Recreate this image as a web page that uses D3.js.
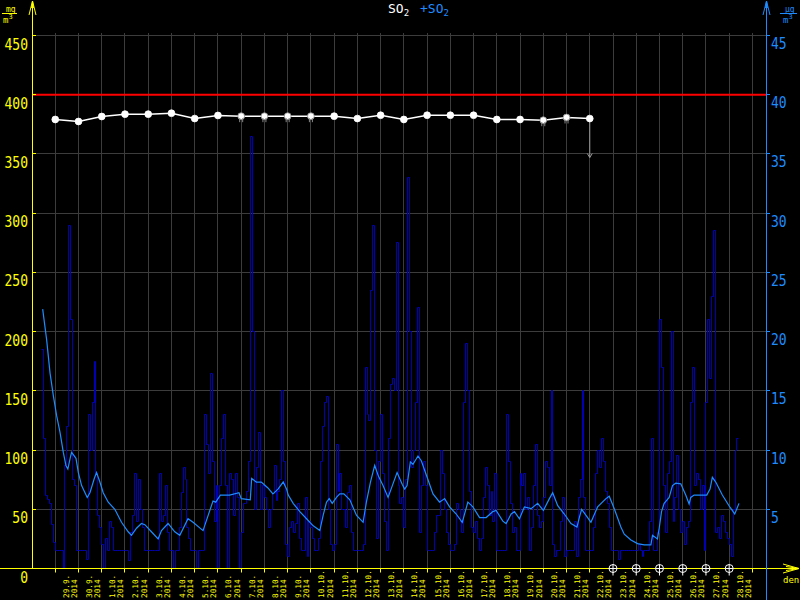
<!DOCTYPE html>
<html><head><meta charset="utf-8">
<script src="https://cdn.jsdelivr.net/npm/d3@7/dist/d3.min.js"></script>
<style>html,body{margin:0;padding:0;background:#000;overflow:hidden}svg{display:block}</style>
</head><body>
<svg id="c" width="800" height="600"></svg>
<script>
// ---------------- DATA ----------------
// 2-hour SO2 values (right axis units), first value at 28.9.2014 10:00 UTC
const hourlyStartUTC = [2014, 8, 28, 10];
const hourlyStepHours = 2;
const so2Hourly = [
  18.5,11,6.2,5.8,5.5,3.7,2.2,
  1.5,1.5,1.5,1.5,0,8.7,12,29,21,7.5,7,1.5,
  1.5,1.5,1.5,1.5,0.8,13,10,14,17.5,8,4.5,3.5,
  2,0,2.5,1.5,4,3.5,1.5,1.5,1.5,1.5,1.5,1.5,
  1.5,1.5,0.7,3,4.5,8,4,7.5,5,3.5,1.5,1.5,
  1.5,1.5,1.5,1.5,1.5,1.5,8,4,4.5,7,3,1.5,
  1.5,0,1.5,1.5,3.5,6.4,8.5,7.5,3.5,2.5,1.5,1.5,
  1.5,0,1.5,1.5,1.5,13,10.5,8,16.5,9,4,7,
  0,7,11,13,7,0,8,7.5,4.5,8,6,0,
  3,5.5,5.5,6.5,9,36.5,20,5,8.5,11.5,5,7,
  6,5,3.5,5,6.3,8.7,5.7,6.5,7.5,15,9,2,
  1,3.5,4,3,3.8,5.5,2.5,1.5,1.5,6,1,4,
  3.5,2.5,1.5,1.5,2.5,9,12,14,14.5,5,2,1.5,
  2,10.5,6.5,8,5,5,3.5,6.4,7,3,1.5,1.5,
  1.5,1.5,1.5,2,17,13,12.5,23.5,29,10,2.5,9,
  13,8,4,1.5,11,15.5,16,15,27.5,7,5.5,6,
  3.5,7.5,33,20,8.5,10,14,22,3,7,9,7,
  1.5,1.5,1.5,1.5,3,4.5,4.5,10,8,5,3,2,
  1.5,1.5,2,5.5,5,4,3,14,19,15,6.5,3.5,
  3,4,2.5,1.5,2.5,6,8.5,7,4.5,6.5,4,8,
  1.5,1.5,1.5,1.5,1.5,13,9,5.5,3,3.5,1.5,1.5,
  8,7,8,5,6,1.5,3.5,7,10.5,4.5,3.5,4,
  6,9,8.5,7,15,2,1,1.5,1.5,4,6,1,
  1.5,1.5,1.5,1.5,4,1,6,7.5,15,6,1.5,1.5,
  1.5,1.5,3.5,8,10,8.5,11,9,6.5,5.5,3.5,1.5,
  1.5,1.5,1.5,0.8,1.5,1.5,1.5,1.5,1.5,1.5,1.5,1.5,
  1.5,2,1.5,1,1.5,1.5,1.5,4,11,1.5,1.5,3,
  21,17,7,3,8,9,20,4,6,9.5,5,3,
  4,2,3.5,4,14,17,7,8,7.5,5,7,1.5,
  14,21,16,23,28.5,3,3.5,2.5,4.5,4,3,2.5,
  2,1,5,10,11
];
// running average (+SO2), hours after 28.9.2014 00:00 UTC and values (right axis units)
const avgHours = [11,15.1,18.6,22,25.4,28.9,32.3,35,37,39.9,40.9,45.4,47.8,51.2,57,59.8,64.3,66.6,70.1,73.5,
  78.7,85.5,92.4,99.3,102.7,107.9,113,116.5,123.3,130.2,133.7,140.5,147.4,152.6,161.1,166.3,176.6,186.9,189.7,194.5,
  200,204.1,213.7,216.1,225.4,226.8,231.6,236.8,243.6,248.8,254,
  259.4,262.9,264.6,269.7,276.6,283.5,290.4,297.2,300.7,304.1,306.9,310,314.4,317.8,322,328.2,335,341.9,345.3,349.5,
  353.9,357.7,362.5,367.7,372.1,377,382.4,384.9,387.3,390.7,393.4,398.6,402,407.2,414.1,420.9,426.1,431.2,438.1,444.3,
  450.1,455.3,462.2,469,475.9,479.3,486.2,489.6,494.8,498.2,503.4,
  508.5,515.4,522.2,528.1,534.3,537.7,542.9,549.7,556.6,562.8,565.2,567.6,573.8,577.2,584.1,592.7,596.1,601.3,608.1,611.6,
  618.5,625.3,632.2,639.1,640.8,645.9,647.7,650.1,652.8,658,661.4,664.8,670,675.1,678.6,680.3,683.7,690.6,696.8,700.2,
  702.6,706.1,712.9,719.8,725.7,730.1];
const avgValues = [21.9,19.3,16.5,14.6,12.9,11.5,9.8,8.7,8.4,9.5,9.8,9.3,8.1,7.0,6.0,6.4,7.6,8.1,7.3,6.4,
  5.6,5.0,3.9,3.1,2.8,3.4,3.8,3.7,3.1,2.5,3.2,3.8,3.1,2.8,4.2,3.9,3.2,5.7,5.6,6.2,
  6.2,6.2,6.4,5.9,5.8,7.6,7.3,7.3,6.8,6.3,6.7,
  7.3,6.7,6.2,5.5,4.8,4.2,3.6,3.2,4.5,5.6,5.9,5.5,6.0,6.3,6.3,5.8,4.5,3.9,5.6,7.3,
  8.7,7.8,7.0,6.0,7.0,8.1,7.1,6.7,7.0,9.0,8.8,9.5,9.1,7.9,6.3,5.6,5.9,5.2,4.6,3.9,
  5.6,5.2,4.3,4.3,4.8,4.9,4.0,3.8,4.6,4.8,4.2,
  5.2,5.05,5.5,4.9,5.9,6.4,5.3,4.6,3.8,3.5,4.3,5.0,4.3,3.9,5.2,5.9,6.1,5.05,3.5,2.9,
  2.4,2.1,2.0,2.0,2.8,2.5,3.4,4.8,5.5,6.0,7.0,7.2,7.15,6.2,5.45,6.0,6.2,6.2,6.2,6.7,
  7.7,7.3,6.2,5.3,4.6,5.5];
// daily SO2 (left axis units), plotted at midnight from 29.9. to 22.10.
const dailyFirstDate = [2014, 8, 29];
const dailyValues = [379.1,377.4,381.6,383.6,383.6,384.4,379.9,382.5,381.9,381.9,381.9,381.9,
  381.9,379.9,382.7,379.1,382.7,382.7,382.7,379.1,379.1,378.5,380.8,379.9];
const dailyIncomplete = [0,0,0,0,0,0,0,0,1,1,1,1,0,0,0,0,0,0,0,0,0,1,1,0];
const lastDropTo = 347;
// days without daily value
const missingDates = ["2014-10-23","2014-10-24","2014-10-25","2014-10-26","2014-10-27","2014-10-28"];
const dayLabels = ["29.9.","30.9.","1.10.","2.10.","3.10.","4.10.","5.10.","6.10.","7.10.","8.10.",
  "9.10.","10.10.","11.10.","12.10.","13.10.","14.10.","15.10.","16.10.","17.10.","18.10.",
  "19.10.","20.10.","21.10.","22.10.","23.10.","24.10.","25.10.","26.10.","27.10.","28.10."];
const yearLabel = "2014";
const limitValue = 400;
const leftTicks = [0,50,100,150,200,250,300,350,400,450];
const rightTicks = [5,10,15,20,25,30,35,40,45];

// ---------------- CHART ----------------
const svg = d3.select('#c');
const X0 = 33, X1 = 766, Y0 = 568.5, Y1 = 35.5;
const YELLOW = '#ffff00', BLUE = '#1e8cff', DARK = '#0000b4', GRID = '#3c3c3c';
const t0 = new Date(Date.UTC(2014, 8, 28, 1));
const t1 = new Date(Date.UTC(2014, 9, 29, 14));
const x = d3.scaleUtc().domain([t0, t1]).range([X0, X1]);
const yL = d3.scaleLinear().domain([0, 450]).range([Y0, Y1]);
const yR = d3.scaleLinear().domain([0, 45]).range([Y0, Y1]);
const r5 = v => Math.round(v - 0.5) + 0.5;
const mono = 'DejaVu Sans Mono, monospace';

svg.append('rect').attr('width', 800).attr('height', 600).attr('fill', '#000');

const dayTicks = d3.utcDay.range(new Date(Date.UTC(2014, 8, 29)), new Date(Date.UTC(2014, 9, 29, 1)));

// grid
const grid = svg.append('g').attr('stroke', GRID).attr('stroke-width', 1);
grid.selectAll('line.v').data(dayTicks).join('line')
  .attr('x1', d => r5(x(d))).attr('x2', d => r5(x(d)))
  .attr('y1', 33).attr('y2', Y0);
grid.selectAll('line.h').data(leftTicks.filter(d => d > 0)).join('line')
  .attr('x1', X0).attr('x2', X1)
  .attr('y1', d => r5(yL(d))).attr('y2', d => r5(yL(d)));

// hourly series (step), snapped to pixel centres
const hStart = Date.UTC(...hourlyStartUTC);
const hourly = so2Hourly.map((v, i) => ({t: new Date(hStart + i * hourlyStepHours * 3600e3), v}));
hourly.push({t: new Date(hStart + so2Hourly.length * hourlyStepHours * 3600e3), v: so2Hourly[so2Hourly.length - 1]});
svg.append('path').datum(hourly)
  .attr('d', d3.line().x(d => r5(x(d.t))).y(d => r5(yR(d.v))).curve(d3.curveStepAfter))
  .attr('fill', 'none').attr('stroke', DARK).attr('stroke-width', 1);

// running average
const base = Date.UTC(2014, 8, 28);
const avg = avgHours.map((h, i) => ({t: new Date(base + h * 3600e3), v: avgValues[i]}));
svg.append('path').datum(avg)
  .attr('d', d3.line().x(d => x(d.t)).y(d => yR(d.v)))
  .attr('fill', 'none').attr('stroke', BLUE).attr('stroke-width', 1.2);

// limit line
svg.append('line').attr('x1', X0).attr('x2', X1)
  .attr('y1', yL(limitValue)).attr('y2', yL(limitValue))
  .attr('stroke', '#ff0000').attr('stroke-width', 2);

// daily series
const dStart = Date.UTC(...dailyFirstDate);
const daily = dailyValues.map((v, i) => ({t: new Date(dStart + i * 86400e3), v, inc: dailyIncomplete[i]}));
svg.append('path').datum(daily)
  .attr('d', d3.line().x(d => x(d.t)).y(d => yL(d.v)))
  .attr('fill', 'none').attr('stroke', '#fff').attr('stroke-width', 1.5);
const last = daily[daily.length - 1];
svg.append('line').attr('x1', x(last.t)).attr('x2', x(last.t))
  .attr('y1', yL(last.v)).attr('y2', yL(lastDropTo)).attr('stroke', '#9a9a9a').attr('stroke-width', 1);
svg.append('path').attr('d', `M${x(last.t) - 2.5},${yL(lastDropTo) - 4}L${x(last.t)},${yL(lastDropTo)}L${x(last.t) + 2.5},${yL(lastDropTo) - 4}`)
  .attr('fill', 'none').attr('stroke', '#9a9a9a');
const pts = svg.append('g');
pts.selectAll('circle').data(daily).join('circle')
  .attr('cx', d => x(d.t)).attr('cy', d => yL(d.v)).attr('r', 3.4)
  .attr('fill', '#fff').attr('stroke', d => d.inc ? '#888' : '#fff').attr('stroke-width', 0.8);
pts.selectAll('path').data(daily.filter(d => d.inc)).join('path')
  .attr('d', d => `M${x(d.t) - 1.5},${yL(d.v) + 2}v4M${x(d.t) + 1.5},${yL(d.v) + 2}v4`)
  .attr('stroke', '#888').attr('stroke-width', 1);

// axes lines
svg.append('line').attr('x1', 0).attr('x2', 798).attr('y1', Y0).attr('y2', Y0).attr('stroke', YELLOW);
svg.append('path').attr('d', `M783,${Y0 - 4.5}L799,${Y0}L783,${Y0 + 4.5}M786,${Y0 - 2}L799,${Y0}L786,${Y0 + 2}`)
  .attr('fill', 'none').attr('stroke', YELLOW);
svg.append('line').attr('x1', 32.5).attr('x2', 32.5).attr('y1', Y0).attr('y2', 1).attr('stroke', YELLOW);
svg.append('path').attr('d', 'M29,15L32.5,1L36,15M31.5,8L32.5,1L33.5,8').attr('fill', 'none').attr('stroke', YELLOW);
svg.append('line').attr('x1', 766.5).attr('x2', 766.5).attr('y1', 600).attr('y2', 1).attr('stroke', BLUE);
svg.append('path').attr('d', 'M763,15L766.5,1L770,15M765.5,8L766.5,1L767.5,8').attr('fill', 'none').attr('stroke', BLUE);

// left ticks & labels
const lt = svg.append('g');
lt.selectAll('line').data(leftTicks.filter(d => d > 0)).join('line')
  .attr('x1', 32).attr('x2', 36).attr('y1', d => r5(yL(d))).attr('y2', d => r5(yL(d))).attr('stroke', YELLOW);
lt.selectAll('text').data(leftTicks).join('text')
  .attr('transform', d => `translate(28,${yL(d) + 14}) scale(1,1.26)`)
  .attr('text-anchor', 'end').attr('fill', YELLOW).attr('font-family', mono).attr('font-size', 13)
  .text(d => d);
// right ticks & labels
const rt = svg.append('g');
rt.selectAll('line').data(rightTicks).join('line')
  .attr('x1', 766).attr('x2', 770).attr('y1', d => r5(yR(d))).attr('y2', d => r5(yR(d))).attr('stroke', BLUE);
rt.selectAll('text').data(rightTicks).join('text')
  .attr('transform', d => `translate(771,${yR(d) + 13.5}) scale(1,1.2)`)
  .attr('fill', BLUE).attr('font-family', mono).attr('font-size', 13)
  .text(d => d);

// x ticks & day labels
svg.selectAll('line.xt').data(dayTicks).join('line')
  .attr('x1', d => r5(x(d))).attr('x2', d => r5(x(d))).attr('y1', Y0).attr('y2', Y0 + 4).attr('stroke', YELLOW);
const lab = svg.append('g').attr('fill', YELLOW).attr('font-family', mono).attr('font-size', 7.7);
dayLabels.forEach((s, i) => {
  const cx = x(new Date(Date.UTC(2014, 8, 29 + i, 12)));
  lab.append('text').attr('transform', `translate(${cx + 1.8},598) rotate(-90)`).text(s);
  lab.append('text').attr('transform', `translate(${cx + 10},598) rotate(-90)`).text(yearLabel);
});
svg.append('text').attr('x', 783).attr('y', 583).attr('fill', YELLOW).attr('font-family', mono).attr('font-size', 9).text('den');

// missing-day markers
const mk = svg.append('g').attr('stroke', '#fff').attr('fill', '#000');
missingDates.forEach(s => {
  const cx = x(new Date(s + 'T00:00:00Z'));
  mk.append('circle').attr('cx', cx).attr('cy', Y0).attr('r', 4);
  mk.append('path').attr('d', `M${cx - 4},${Y0}h8M${cx},${Y0 - 4}v11`);
});

// title
const tt = svg.append('g').attr('font-family', mono);
tt.append('text').attr('x', 388).attr('y', 13).attr('fill', '#fff').attr('font-size', 13).text('SO')
  .append('tspan').attr('font-size', 9).attr('dy', 3).text('2');
tt.append('text').attr('x', 420).attr('y', 13).attr('fill', BLUE).attr('font-size', 13).text('+SO')
  .append('tspan').attr('font-size', 9).attr('dy', 3).text('2');

// units
const un = svg.append('g').attr('font-family', mono);
un.append('text').attr('x', 6).attr('y', 12).attr('fill', YELLOW).attr('font-size', 8).text('mg');
un.append('line').attr('x1', 2).attr('x2', 17).attr('y1', 13.5).attr('y2', 13.5).attr('stroke', YELLOW);
un.append('text').attr('x', 3).attr('y', 23).attr('fill', YELLOW).attr('font-size', 9).text('m')
  .append('tspan').attr('font-size', 7).attr('dy', -4).text('3');
un.append('text').attr('x', 785).attr('y', 12).attr('fill', BLUE).attr('font-size', 8).text('µg');
un.append('line').attr('x1', 780).attr('x2', 797).attr('y1', 13.5).attr('y2', 13.5).attr('stroke', BLUE);
un.append('text').attr('x', 783).attr('y', 23).attr('fill', BLUE).attr('font-size', 9).text('m')
  .append('tspan').attr('font-size', 7).attr('dy', -4).text('3');
</script>
</body></html>
